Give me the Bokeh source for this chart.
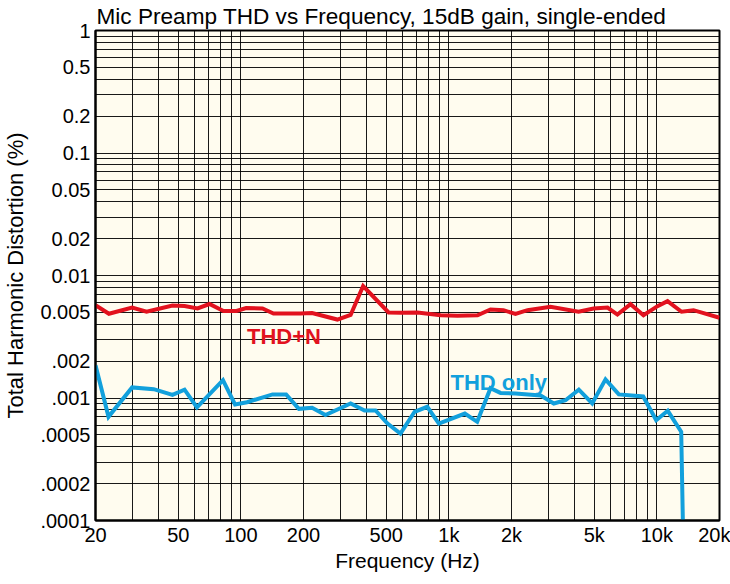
from bokeh.plotting import figure
from bokeh.models import FixedTicker, Label
from bokeh.embed import file_html
from bokeh.resources import INLINE

# ---- data ----
freq_thdn = [20, 23.2, 30, 35.2, 46.9, 53.6, 61.9, 70.6, 82.5, 95.3, 106, 127, 143.5,
             193, 220, 291, 337, 387, 513, 585, 706, 912, 1100, 1373, 1585, 1830,
             2090, 2388, 3080, 4200, 4960, 5790, 6460, 7470, 8620, 10070, 11250,
             13140, 15000, 20000]
thdn = [0.00572, 0.00487, 0.00548, 0.00506, 0.00569, 0.00564, 0.00538, 0.00585,
        0.00513, 0.00513, 0.00543, 0.00538, 0.00490, 0.00490, 0.00494, 0.00437,
        0.00476, 0.00821, 0.00499, 0.00496, 0.00499, 0.00474, 0.00469, 0.00474,
        0.00528, 0.00521, 0.00485, 0.00521, 0.00555, 0.00506, 0.00538, 0.00548,
        0.00480, 0.00583, 0.00474, 0.00562, 0.00617, 0.00506, 0.00521, 0.00452]

freq_thd = [20, 23.1, 30, 38.1, 46.9, 53.6, 61.5, 82, 93.7, 107, 142, 165, 190, 220,
            255, 337, 393, 444, 507, 585, 684, 787, 895, 1193, 1368, 1585, 1771,
            2090, 2758, 3194, 3636, 4214, 4887, 5662, 6560, 8594, 9924, 11280,
            13090, 13330]
thd = [0.00185, 0.000702, 0.00122, 0.00118, 0.00106, 0.00117, 0.000837, 0.00140,
       0.000885, 0.000924, 0.00107, 0.00107, 0.000816, 0.000833, 0.000726, 0.000902,
       0.000791, 0.000791, 0.000619, 0.000513, 0.000772, 0.000848, 0.000619,
       0.000747, 0.000639, 0.00120, 0.00110, 0.00109, 0.00105, 0.000902, 0.000959,
       0.00117, 0.000902, 0.00142, 0.00107, 0.00103, 0.000659, 0.000786, 0.000530,
       0.0001]

x_ticks = [20, 50, 100, 200, 500, 1000, 2000, 5000, 10000, 20000]
x_tick_labels = ["20", "50", "100", "200", "500", "1k", "2k", "5k", "10k", "20k"]
y_ticks = [1, 0.5, 0.2, 0.1, 0.05, 0.02, 0.01, 0.005, 0.002, 0.001, 0.0005, 0.0002, 0.0001]
y_tick_labels = ["1", "0.5", "0.2", "0.1", "0.05", "0.02", "0.01", "0.005",
                 ".002", ".001", ".0005", ".0002", ".0001"]
x_grid = [m * 10 ** d for d in range(1, 5) for m in range(1, 10) if 20 <= m * 10 ** d <= 20000]
y_grid = [m * 10.0 ** d for d in range(-4, 1) for m in range(1, 10) if m * 10.0 ** d <= 1.0000001]

FONT = "Liberation Sans"

p = figure(frame_width=624, frame_height=490, x_axis_type="log", y_axis_type="log",
           x_range=(20, 20000), y_range=(0.0001, 1),
           output_backend="svg", toolbar_location=None,
           title="Mic Preamp THD vs Frequency, 15dB gain, single-ended",
           min_border_left=87, min_border_right=11, min_border_top=29, min_border_bottom=48)

p.background_fill_color = "#FFFCEF"
p.border_fill_color = "white"
p.outline_line_color = "black"
p.outline_line_width = 2

p.title.text_font = FONT
p.title.text_font_size = "22.6px"
p.title.text_font_style = "normal"
p.title.text_color = "black"
p.title.standoff = 3
p.title.offset = 1

p.xaxis.ticker = FixedTicker(ticks=x_ticks)
p.xaxis.major_label_overrides = {t: l for t, l in zip(x_ticks, x_tick_labels)}
p.yaxis.ticker = FixedTicker(ticks=y_ticks)
p.yaxis.major_label_overrides = {t: l for t, l in zip(y_ticks, y_tick_labels)}

for ax in (p.xaxis[0], p.yaxis[0]):
    ax.major_tick_line_color = None
    ax.minor_tick_line_color = None
    ax.major_tick_out = 0
    ax.major_tick_in = 0
    ax.minor_tick_out = 0
    ax.minor_tick_in = 0
    ax.axis_line_color = "black"
    ax.axis_line_width = 2
    ax.major_label_text_font = FONT
    ax.major_label_text_font_size = "20px"
    ax.major_label_text_color = "black"
    ax.axis_label_text_font = FONT
    ax.axis_label_text_font_size = "21px"
    ax.axis_label_text_font_style = "normal"
    ax.axis_label_text_color = "black"

p.xaxis.axis_label = "Frequency (Hz)"
p.yaxis.axis_label = "Total Harmonic Distortion (%)"
p.xaxis.major_label_standoff = 3
p.xaxis.axis_label_standoff = 0
p.yaxis.major_label_standoff = 5
p.yaxis.axis_label_standoff = 9
p.yaxis.axis_label_text_font_size = "22px"

p.xgrid.ticker = FixedTicker(ticks=x_grid)
p.ygrid.ticker = FixedTicker(ticks=y_grid)
for g in (p.xgrid[0], p.ygrid[0]):
    g.grid_line_color = "black"
    g.grid_line_width = 1
    g.grid_line_alpha = 0.9

RED = "#E2121E"
BLUE = "#12A0DC"
p.line(freq_thdn, thdn, line_color=RED, line_width=4, line_join="miter")
p.line(freq_thd, thd, line_color=BLUE, line_width=4, line_join="miter")

p.add_layout(Label(x=107, y=0.00316, text="THD+N", text_color=RED, text_font=FONT,
                   text_font_size="22px", text_font_style="bold", text_baseline="alphabetic"))
p.add_layout(Label(x=1018, y=0.00134, text="THD only", text_color=BLUE, text_font=FONT,
                   text_font_size="22px", text_font_style="bold", text_baseline="alphabetic"))

open("out.html", "w").write(file_html(p, INLINE))
